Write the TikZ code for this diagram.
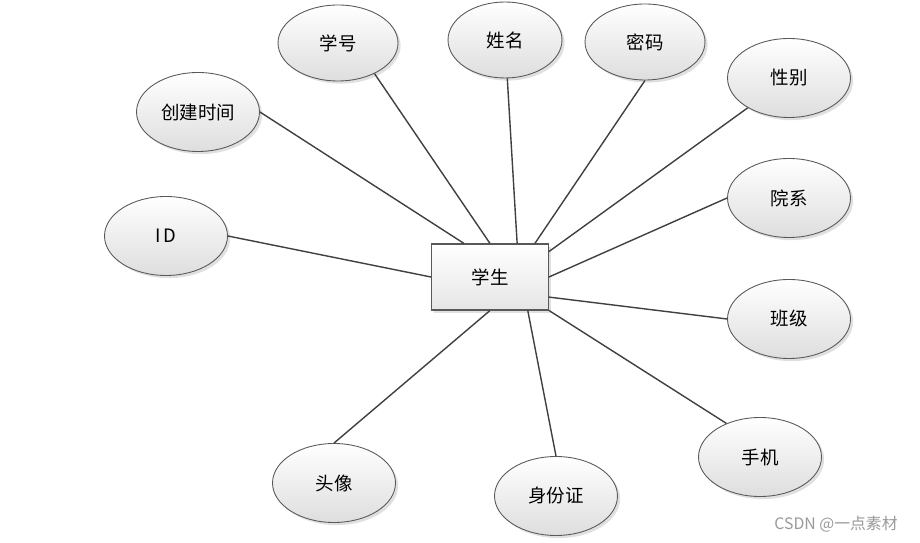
\documentclass[tikz,border=0pt]{standalone}
\usepackage{fontspec}
\setmainfont{Noto Sans CJK SC}
\usetikzlibrary{shapes.geometric, shadows, calc}

\begin{document}
\begin{tikzpicture}[x=0.02cm, y=-0.02cm,
  font=\fontsize{10.5}{12}\selectfont,
  attr/.style={ellipse, draw=black!65, line width=0.5pt,
    top color=white, bottom color=black!13,
    minimum width=2.46cm, minimum height=1.58cm,
    drop shadow={shadow xshift=1.5pt, shadow yshift=-1.5pt, fill=black!30, opacity=0.4}},
  entity/.style={rectangle, draw=black!65, line width=0.6pt,
    top color=white, bottom color=black!10,
    minimum width=2.34cm, minimum height=1.32cm,
    drop shadow={shadow xshift=1.5pt, shadow yshift=-1.5pt, fill=black!30, opacity=0.4}},
  conn/.style={draw=black!75, line width=0.8pt}]
  \useasboundingbox (0,0) rectangle (920,543);

  % entity
  \node[entity] (stu) at (490,277) {学生};

  % attributes
  \node[attr, minimum width=2.4cm, minimum height=1.52cm] (num) at (338,43) {学号};
  \node[attr, minimum width=2.28cm, minimum height=1.52cm] (name) at (505,40) {姓名};
  \node[attr, minimum width=2.4cm, minimum height=1.52cm] (pwd) at (645,42) {密码};
  \node[attr] (sex) at (789,78) {性别};
  \node[attr] (ctime) at (198,112) {创建时间};
  \node[attr] (id) at (166,236) {I\,D};
  \node[attr] (dept) at (789,198) {院系};
  \node[attr] (cls) at (789,319) {班级};
  \node[attr] (phone) at (760,457) {手机};
  \node[attr] (avatar) at (334,483) {头像};
  \node[attr] (idcard) at (556,496) {身份证};

  % connectors
  \draw[conn] (ctime.east) -- ($(stu.north west)!.28!(stu.north east)$);
  \draw[conn] (num.-40) -- (stu.north);
  \draw[conn] (name) -- ($(stu.north west)!.73!(stu.north east)$);
  \draw[conn] (pwd.south) -- ($(stu.north west)!.88!(stu.north east)$);
  \draw[conn] (sex) -- ($(stu.north east)!.12!(stu.south east)$);
  \draw[conn] (dept.west) -- (stu.east);
  \draw[conn] (cls.west) -- ($(stu.north east)!.8!(stu.south east)$);
  \draw[conn] (phone.135) -- (stu.south east);
  \draw[conn] (idcard.north) -- ($(stu.south west)!.82!(stu.south east)$);
  \draw[conn] (avatar.north) -- (stu.south);
  \draw[conn] (id.east) -- (stu.west);

  \node[text=black!40, font=\fontsize{9}{10}\selectfont] (mark) at (836,524) {CSDN @一点素材};
\end{tikzpicture}
\end{document}
